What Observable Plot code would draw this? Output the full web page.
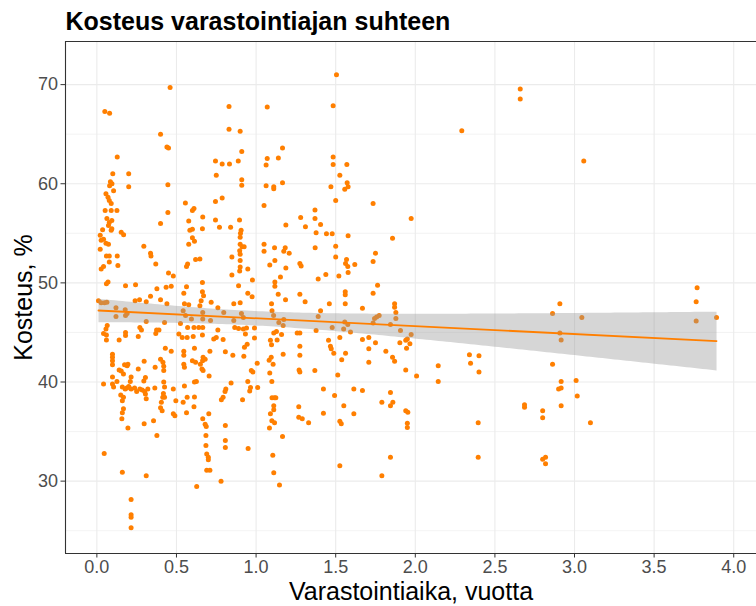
<!DOCTYPE html>
<html>
<head>
<meta charset="utf-8">
<script src="https://cdn.jsdelivr.net/npm/d3@7"></script>
<script src="https://cdn.jsdelivr.net/npm/@observablehq/plot@0.6"></script>
<style>
  html, body { margin: 0; padding: 0; background: #fff; }
  #chart svg { display: block; }
  g[aria-label="x-axis tick"] path, g[aria-label="y-axis tick"] path { stroke: #333; }
</style>
</head>
<body>
<div id="chart"></div>
<script>
const title = "Kosteus varastointiajan suhteen";
const xLabel = "Varastointiaika, vuotta";
const yLabel = "Kosteus, %";
const xTicks = [0, 0.5, 1, 1.5, 2, 2.5, 3, 3.5, 4];
const yTicks = [30, 40, 50, 60, 70];
const yMinorTicks = [25, 35, 45, 55, 65];

// Varastointiaika (vuotta)
const aika = [
  // 0 – 0.5
  .05,.08,.46,.40,.44,.45,.128,.10,.20,.20,
  .085,.095,.08,.105,.446,.057,.07,.078,.09,.052,
  .09,.126,.446,.063,.078,.094,.073,.094,.09,.40,
  .036,.153,.168,.021,.027,.042,.057,.073,.021,.295,
  .337,.34,.06,.078,.128,.027,.042,.078,.132,.37,
  .45,.48,.07,.06,.18,.243,.377,.435,.467,.337,
  .01,.027,.048,.063,.24,.268,.31,.40,.44,.12,
  .178,.12,.18,.19,.065,.057,.042,.06,.06,.14,
  .18,.18,.26,.27,.28,.31,.37,.375,.39,.425,
  .43,.467,.098,.098,.098,.098,.14,.153,.174,.19,
  .195,.167,.26,.297,.366,.40,.415,.42,.42,.042,
  .098,.098,.105,.126,.16,.178,.188,.20,.215,.15,
  .167,.16,.215,.21,.237,.25,.27,.285,.30,.31,
  .305,.32,.295,.305,.364,.42,.425,.418,.414,.405,
  .425,.48,.167,.16,.157,.195,.297,.356,.41,.40,
  .48,.377,.046,.16,.31,.215,.215,.215,.215,
  // 0.5 – 1.0
  .83,.83,.90,.91,.745,.787,.833,.888,.75,.91,
  .91,.556,.60,.61,.745,.787,.665,.577,.745,.896,
  .584,.60,.663,.77,.84,.906,.902,.60,.613,.577,
  .90,.90,.912,.925,.897,.90,.90,.62,.647,.57,
  .563,.848,.90,.897,.948,.848,.977,.89,.563,.546,
  .663,.663,.67,.948,.975,.55,.577,.655,.647,.718,
  .76,.797,.86,.90,.542,.557,.665,.594,.665,.714,
  .908,.92,.525,.57,.61,.64,.665,.86,.866,.89,
  .92,.94,.515,.536,.567,.605,.663,.734,.75,.76,
  .793,.933,.944,.927,.923,.546,.546,.546,.55,.613,
  .71,.807,.854,.667,.68,.664,.65,.66,.667,.60,
  .62,.705,.613,.625,.55,.81,.805,.843,.948,.965,
  .96,1.01,1.007,.97,.98,.496,.542,.567,.613,.61,
  .563,.49,.782,.793,.915,.665,.68,.687,.685,.703,
  .807,.807,.807,.95,.685,.69,.70,.70,.69,.71,
  .627,.78,.99,.99,
  // 1.0 – 2.2
  1.505,1.07,1.484,1.166,1.07,1.14,1.063,1.484,1.484,1.57,
  1.526,1.572,1.578,1.557,1.063,1.111,1.111,1.166,1.47,1.05,
  1.50,1.735,1.37,1.28,1.37,1.974,1.187,1.31,1.405,1.377,
  1.442,1.478,1.578,1.857,1.05,1.05,1.116,1.183,1.174,1.208,
  1.371,1.50,1.50,1.75,1.735,1.568,1.562,1.576,1.62,1.118,
  1.086,1.275,1.283,1.187,1.578,1.52,1.438,1.39,1.153,1.118,
  1.118,1.763,1.735,1.56,1.56,1.56,1.139,1.275,1.308,1.185,
  1.46,1.097,1.668,1.87,1.87,1.878,1.878,1.10,1.11,1.405,
  1.39,1.773,1.757,1.744,1.174,1.17,1.143,1.557,1.735,1.844,
  1.576,1.55,1.478,1.377,1.593,1.907,1.111,1.128,1.16,1.258,
  1.275,1.526,1.668,1.708,1.75,1.974,1.903,1.94,1.95,1.966,
  1.09,1.097,1.132,1.275,1.455,1.467,1.472,1.488,1.562,1.708,
  1.945,1.815,1.275,1.17,1.857,1.87,1.538,1.708,1.082,1.107,
  1.095,1.369,1.27,1.275,1.513,2.144,1.94,2.008,1.086,1.099,
  2.144,1.10,1.115,1.124,1.111,1.111,1.09,1.099,1.116,1.084,
  1.166,1.105,1.111,1.147,1.268,1.268,1.29,1.33,1.423,1.423,
  1.493,1.551,1.526,1.535,1.526,1.614,1.668,1.614,1.79,1.844,
  1.859,1.844,1.844,1.79,1.94,1.953,1.95,1.95,
  // 2.2 – 4.0
  2.659,2.659,2.292,3.058,3.77,2.908,2.862,3.046,3.764,3.764,
  3.892,2.908,2.916,2.34,2.347,2.40,2.40,2.862,2.916,2.90,
  2.916,3.01,3.017,2.916,2.686,2.686,2.80,2.80,3.10,2.395,
  2.395,2.80,2.818,2.818
];

// Kosteus (%)
const kosteus = [
  // 0 – 0.5
  67.3,67.1,69.7,65.0,63.7,63.6,62.7,61.0,61.0,59.7,
  60.2,60.0,59.8,59.3,59.9,59.0,58.65,58.3,58.0,57.3,
  57.3,57.3,57.1,56.5,56.1,56.3,55.8,55.45,55.3,56.0,
  55.35,55.1,54.85,54.8,54.3,54.4,54.0,53.9,53.4,53.7,
  53.0,52.7,52.7,52.7,52.7,51.4,51.65,52.1,51.75,51.9,
  51.0,50.7,50.1,49.9,49.7,49.8,49.4,49.55,49.65,48.65,
  48.2,48.0,48.0,48.05,48.2,48.3,48.1,48.3,47.9,47.5,
  47.3,46.6,46.7,46.9,45.7,45.35,44.9,44.75,44.25,44.25,
  45.0,44.7,44.6,45.5,45.25,46.1,44.9,45.25,45.25,46.0,
  43.4,43.1,42.8,42.5,42.15,41.75,41.2,41.1,41.75,41.65,
  41.8,40.8,41.3,42.1,41.5,42.3,42.0,41.6,41.15,39.8,
  40.5,39.8,39.5,40.05,39.5,39.3,39.4,39.55,39.3,38.7,
  38.45,38.1,40.5,40.05,39.4,39.05,39.3,39.2,39.05,38.3,
  38.8,39.3,40.1,40.45,39.4,40.0,39.5,38.85,38.45,37.95,
  38.45,39.3,37.3,36.9,36.3,35.35,35.8,36.1,37.1,37.4,
  36.8,34.6,32.8,30.9,30.55,28.15,26.6,26.35,25.3,
  // 0.5 – 1.0
  67.8,65.5,65.3,63.25,62.3,62.0,62.0,62.3,60.85,60.4,
  59.85,58.05,57.3,57.5,58.2,58.55,56.65,56.25,56.35,56.35,
  55.3,55.4,55.45,55.6,55.6,55.3,55.0,54.55,54.2,53.9,
  54.6,53.9,53.65,53.65,53.25,52.9,52.25,52.35,52.4,51.9,
  51.65,52.6,51.6,51.2,51.4,50.8,50.3,49.7,49.6,48.95,
  50.05,49.1,48.7,48.95,48.6,47.9,47.8,48.2,47.7,48.05,
  47.5,47.0,47.9,48.0,47.2,46.7,47.0,46.35,46.35,46.2,
  46.9,46.5,45.9,45.5,45.5,45.5,45.5,46.2,45.5,45.4,
  45.35,45.45,44.85,44.5,44.5,44.6,44.75,44.35,44.5,45.25,
  44.3,44.85,43.8,43.5,42.6,43.1,42.7,41.8,41.5,43.4,
  43.1,43.05,42.7,42.5,42.3,42.15,41.8,41.3,41.15,42.15,
  42.0,40.6,40.0,40.05,39.6,39.3,39.05,39.9,40.05,39.45,
  39.1,39.45,41.9,41.15,41.0,38.1,37.95,38.45,38.5,37.5,
  36.9,36.6,38.2,38.45,38.2,36.3,35.75,35.5,34.6,36.8,
  35.6,34.1,33.4,33.3,33.6,32.75,32.4,32.15,31.1,31.1,
  29.45,30.0,45.45,44.45,
  // 1.0 – 2.2
  71.0,67.75,67.86,63.6,62.55,62.6,61.9,62.7,61.95,61.95,
  60.85,60.1,59.7,59.45,59.8,59.7,59.5,60.1,59.7,57.8,
  58.3,58.0,57.35,56.6,56.5,56.5,55.85,55.65,55.9,55.05,
  54.95,54.95,54.75,54.5,53.9,53.2,53.55,53.55,53.2,53.0,
  53.55,53.7,52.6,53.0,52.15,52.35,51.95,51.65,51.85,52.25,
  51.8,51.95,51.7,51.5,51.05,50.7,50.85,50.4,50.6,50.1,
  49.65,49.75,48.95,49.1,48.8,47.9,48.85,48.85,48.1,48.3,
  47.9,47.9,47.45,47.9,47.55,47.0,46.4,47.2,46.7,47.2,
  46.6,46.7,46.55,46.4,46.3,45.7,46.0,46.05,45.95,45.8,
  45.8,45.35,45.5,45.2,45.05,45.2,44.95,45.1,44.8,44.95,
  44.95,44.5,44.3,44.5,43.95,44.8,43.95,44.2,44.35,43.85,
  44.2,43.75,44.25,43.6,44.2,43.6,43.35,42.9,42.9,43.35,
  43.4,43.1,42.7,42.8,42.5,42.1,42.25,42.0,42.2,41.8,
  42.5,41.15,41.2,41.0,40.7,41.65,41.2,40.6,40.9,40.05,
  40.05,38.4,38.4,38.4,37.6,37.2,36.8,36.1,35.9,35.35,
  34.5,32.6,30.85,29.6,37.5,36.45,36.3,35.9,39.3,36.85,
  38.65,37.6,36.05,35.8,31.55,39.3,39.15,36.8,37.95,38.95,
  37.95,37.6,32.4,30.55,37.1,36.95,35.85,35.4,
  // 2.2 – 4.0
  69.55,68.55,65.35,62.3,49.5,47.9,46.9,46.5,48.1,46.15,
  46.5,44.95,44.25,42.75,41.9,42.65,41.0,41.8,40.05,39.3,
  39.4,40.15,38.6,37.6,37.7,37.45,37.1,36.4,35.9,35.9,
  32.4,32.2,32.4,31.75
];

const data = aika.map((x, i) => ({aika: x, kosteus: kosteus[i]}));
const xDomain = [-0.197, 4.143];
const yDomain = [22.7, 74.35];
const orange = "#ff7f00";

const chart = Plot.plot({
  width: 756,
  height: 606,
  marginLeft: 65,
  marginRight: 0,
  marginTop: 41,
  marginBottom: 53,
  style: {fontFamily: "'Liberation Sans', Arial, sans-serif", background: "#fff", overflow: "visible"},
  x: {domain: xDomain, axis: null},
  y: {domain: yDomain, axis: null},
  marks: [
    Plot.gridY(yMinorTicks, {stroke: "#f0f0f0", strokeOpacity: 1, strokeWidth: 0.8}),
    Plot.gridX(xTicks, {stroke: "#ebebeb", strokeOpacity: 1, strokeWidth: 1.1}),
    Plot.gridY(yTicks, {stroke: "#ebebeb", strokeOpacity: 1, strokeWidth: 1.1}),
    Plot.dot(data, {x: "aika", y: "kosteus", r: 2.5, fill: orange, stroke: "none"}),
    Plot.linearRegressionY(data, {x: "aika", y: "kosteus", stroke: orange, strokeWidth: 1.8, fill: "#999999", fillOpacity: 0.4}),
    Plot.ruleY([yDomain[0], yDomain[1]], {stroke: "#333", strokeWidth: 1.1}),
    Plot.ruleX([xDomain[0]], {stroke: "#333", strokeWidth: 1.1}),
    Plot.axisX(xTicks, {anchor: "bottom", tickSize: 4.5, tickPadding: 2, fontSize: 18, color: "#4d4d4d", label: null, tickFormat: d => d.toFixed(1)}),
    Plot.axisY(yTicks, {anchor: "left", tickSize: 4.5, tickPadding: 3, fontSize: 18, color: "#4d4d4d", label: null}),
    Plot.text([title], {frameAnchor: "top-left", textAnchor: "start", lineAnchor: "middle", dy: -19.5, fontSize: 25, fontWeight: "bold", fill: "#000"}),
    Plot.text([yLabel], {frameAnchor: "left", textAnchor: "middle", lineAnchor: "middle", rotate: -90, dx: -42, fontSize: 25, fill: "#000"}),
    Plot.text([xLabel], {frameAnchor: "bottom", textAnchor: "middle", lineAnchor: "middle", dy: 38, fontSize: 25, fill: "#000"})
  ]
});
document.getElementById("chart").appendChild(chart);
</script>
</body>
</html>
